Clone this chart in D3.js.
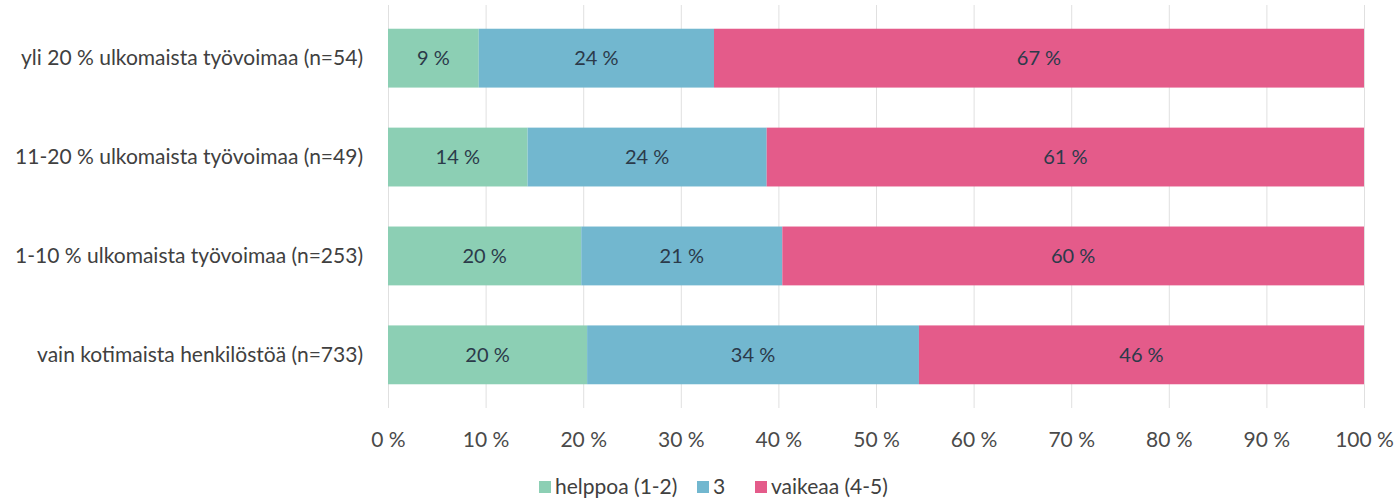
<!DOCTYPE html>
<html>
<head>
<meta charset="utf-8">
<script src="https://cdn.jsdelivr.net/npm/d3@7"></script>
<style>
    body { margin: 0; background: #fff; }
    #chart { width: 1394px; height: 500px; }
    text { font-family: "Lato", "Open Sans", sans-serif; }
    .grid line { stroke: #e0e0e0; stroke-width: 1; }
    .cat { fill: #404040; }
    .tick-lbl { fill: #4a4a4a; }
    .val { fill: #2b3a4a; font-size: 20px; }
    .leg { fill: #404040; font-size: 21px; }
</style>
</head>
<body>
<div id="chart"></div>
<script>
// categories, top to bottom
let categories = [
    "yli 20 % ulkomaista työvoimaa (n=54)",
    "11-20 % ulkomaista työvoimaa (n=49)",
    "1-10 % ulkomaista työvoimaa (n=253)",
    "vain kotimaista henkilöstöä (n=733)"
];

let seriesNames = ["helppoa (1-2)", "3", "vaikeaa (4-5)"];
let seriesColors = ["#8ccfb4", "#72b7cf", "#e45b8a"];

// shares in %
let helppoa = [9.3, 14.3, 19.8, 20.4];
let kolme = [24.1, 24.5, 20.6, 34.0];
let vaikeaa = [66.6, 61.2, 59.6, 45.6];

let xTicks = [0, 10, 20, 30, 40, 50, 60, 70, 80, 90, 100];

let margin = {top: 5, right: 30, bottom: 92, left: 388};
let width = 1364 - margin.left;
let height = 408 - margin.top;

let svg = d3.select("#chart").append("svg")
    .attr("width", 1394)
    .attr("height", 500);

let plot = svg.append("g")
    .attr("transform", `translate(${margin.left},${margin.top})`);

let xScale = d3.scaleLinear()
    .domain([0, 100])
    .range([0, width]);

let yScale = d3.scaleBand()
    .domain(categories)
    .range([0, height])
    .paddingInner(0.405)
    .paddingOuter(0.24);

// vertical gridlines
plot.append("g")
    .classed("grid", true)
    .selectAll("line")
    .data(xTicks)
    .enter().append("line")
    .attr("x1", d => xScale(d) + 0.5)
    .attr("x2", d => xScale(d) + 0.5)
    .attr("y1", 0)
    .attr("y2", height);

// x axis labels
let xAxis = d3.axisBottom(xScale)
    .tickValues(xTicks)
    .tickSize(0)
    .tickPadding(24)
    .tickFormat(d => `${d} %`);

let xg = plot.append("g")
    .attr("transform", `translate(0,${height})`)
    .call(xAxis);
xg.select(".domain").remove();
xg.selectAll("text")
    .attr("class", "tick-lbl")
    .attr("fill", null)
    .style("font-size", "21px");

// y axis labels
let yAxis = d3.axisLeft(yScale)
    .tickSize(0)
    .tickPadding(25);

let yg = plot.append("g").call(yAxis);
yg.select(".domain").remove();
yg.selectAll("text")
    .attr("class", "cat")
    .attr("fill", null)
    .style("font-size", "21px");

// stacked data
let rows = categories.map((c, i) => ({
    cat: c,
    "helppoa (1-2)": helppoa[i],
    "3": kolme[i],
    "vaikeaa (4-5)": vaikeaa[i]
}));

let stack = d3.stack().keys(seriesNames);
let layers = stack(rows);

let layerG = plot.selectAll(".layer")
    .data(layers)
    .enter().append("g")
    .attr("class", "layer")
    .attr("fill", (d, i) => seriesColors[i]);

layerG.selectAll("rect")
    .data(d => d)
    .enter().append("rect")
    .attr("x", d => xScale(d[0]))
    .attr("y", d => yScale(d.data.cat))
    .attr("width", d => xScale(d[1]) - xScale(d[0]))
    .attr("height", yScale.bandwidth());

layerG.selectAll("text")
    .data(d => d)
    .enter().append("text")
    .attr("class", "val")
    .attr("x", d => (xScale(d[0]) + xScale(d[1])) / 2)
    .attr("y", d => yScale(d.data.cat) + yScale.bandwidth() / 2)
    .attr("dy", "0.35em")
    .attr("text-anchor", "middle")
    .text(d => `${Math.round(d[1] - d[0])} %`);

// legend
let legendX = [539, 697, 755];
let legend = svg.append("g")
    .attr("transform", "translate(0,487)");

let items = legend.selectAll("g")
    .data(seriesNames)
    .enter().append("g")
    .attr("transform", (d, i) => `translate(${legendX[i]},0)`);

items.append("rect")
    .attr("x", 0)
    .attr("y", -6)
    .attr("width", 12)
    .attr("height", 12)
    .attr("fill", (d, i) => seriesColors[i]);

items.append("text")
    .attr("class", "leg")
    .attr("x", 16)
    .attr("y", 0)
    .attr("dy", "0.35em")
    .text(d => d);
</script>
</body>
</html>
